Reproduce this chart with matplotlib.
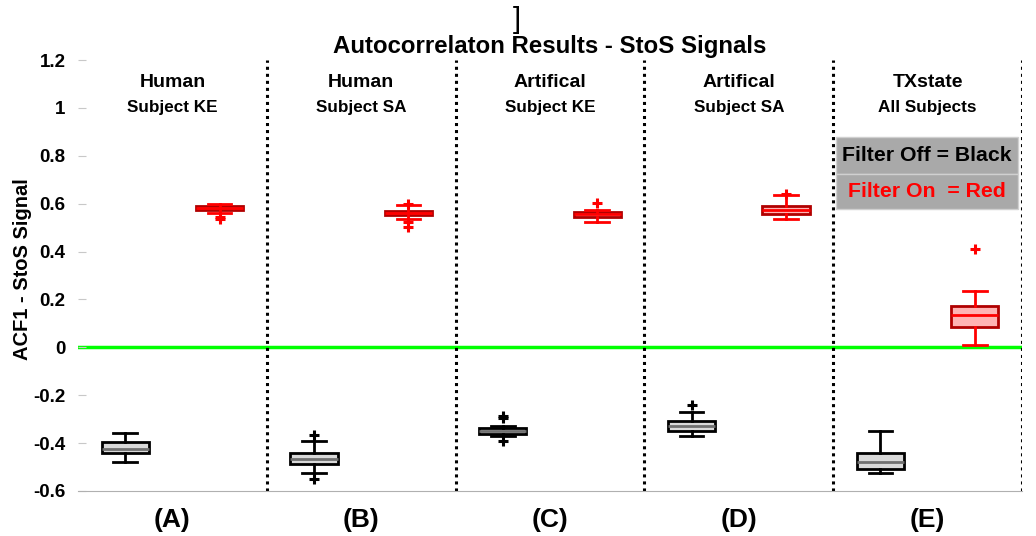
import matplotlib.pyplot as plt
from matplotlib.patches import Rectangle

plt.rcParams['font.family'] = ['Liberation Sans', 'DejaVu Sans']

# --------------------------
# Data
# --------------------------
group_titles = ['Human', 'Human', 'Artifical', 'Artifical', 'TXstate']
group_subtitles = ['Subject KE', 'Subject SA', 'Subject KE', 'Subject SA', 'All Subjects']
group_labels = ['(A)', '(B)', '(C)', '(D)', '(E)']

# filter off (black) box stats per group
off_whislo = [-0.478, -0.525, -0.372, -0.372, -0.525]
off_q1 = [-0.440, -0.486, -0.362, -0.351, -0.510]
off_med = [-0.423, -0.467, -0.350, -0.327, -0.477]
off_q3 = [-0.394, -0.442, -0.337, -0.306, -0.440]
off_whishi = [-0.356, -0.393, -0.327, -0.271, -0.350]
off_fliers = [[], [-0.365, -0.551], [-0.285, -0.295, -0.390], [-0.240], []]

# filter on (red) box stats per group
on_whislo = [0.560, 0.534, 0.525, 0.537, 0.010]
on_q1 = [0.575, 0.552, 0.544, 0.558, 0.083]
on_med = [0.580, 0.560, 0.555, 0.575, 0.134]
on_q3 = [0.590, 0.569, 0.567, 0.590, 0.171]
on_whishi = [0.600, 0.593, 0.574, 0.635, 0.236]
on_fliers = [[0.545, 0.535], [0.600, 0.523, 0.503], [0.604], [0.640], [0.411]]

yticks = [-0.6, -0.4, -0.2, 0, 0.2, 0.4, 0.6, 0.8, 1.0, 1.2]
ytick_labels = ['-0.6', '-0.4', '-0.2', '0', '0.2', '0.4', '0.6', '0.8', '1', '1.2']


def make_stats(lo, q1, med, q3, hi, fl):
    stats = []
    for i in range(len(lo)):
        stats.append({'whislo': lo[i], 'q1': q1[i], 'med': med[i], 'q3': q3[i],
                      'whishi': hi[i], 'fliers': fl[i]})
    return stats


fig = plt.figure(figsize=(10.36, 5.36), dpi=100)
ax = fig.add_axes([0.0753, 0.084, 0.9112, 0.804])

n = len(group_labels)
off_pos = [2 * i + 1 for i in range(n)]
on_pos = [2 * i + 2 for i in range(n)]

ax.axhline(0, color='#00ff00', lw=2.5, zorder=1)

ax.bxp(make_stats(off_whislo, off_q1, off_med, off_q3, off_whishi, off_fliers),
       positions=off_pos, widths=0.5, patch_artist=True, capwidths=0.25,
       boxprops=dict(facecolor='#d9d9d9', edgecolor='black', lw=2),
       medianprops=dict(color='#707070', lw=2),
       whiskerprops=dict(color='black', lw=2),
       capprops=dict(color='black', lw=2),
       flierprops=dict(marker='+', markeredgecolor='black', markersize=7, mew=2.2),
       zorder=3)

ax.bxp(make_stats(on_whislo, on_q1, on_med, on_q3, on_whishi, on_fliers),
       positions=on_pos, widths=0.5, patch_artist=True, capwidths=0.25,
       boxprops=dict(facecolor='#ffb3b3', edgecolor='#b00000', lw=2),
       medianprops=dict(color='red', lw=2),
       whiskerprops=dict(color='red', lw=2),
       capprops=dict(color='red', lw=2),
       flierprops=dict(marker='+', markeredgecolor='red', markersize=7, mew=2.2),
       zorder=3)

# group dividers
for i in range(n):
    ax.axvline(2 * i + 2.5, color='black', ls=(0, (1, 1.3)), lw=2.2, zorder=2)

# group titles
for i in range(n):
    xc = 2 * i + 1.5
    ax.text(xc, 1.107, group_titles[i], ha='center', va='center', fontsize=14, fontweight='bold')
    ax.text(xc, 1.002, group_subtitles[i], ha='center', va='center', fontsize=12.3, fontweight='bold')

# legend boxes
ax.add_patch(Rectangle((8.53, 0.723), 1.93, 0.157, facecolor='#a9a9a9', edgecolor='#d0d0d0', lw=1, zorder=4))
ax.add_patch(Rectangle((8.53, 0.579), 1.93, 0.144, facecolor='#a9a9a9', edgecolor='#d0d0d0', lw=1, zorder=4))
ax.text(9.495, 0.80, 'Filter Off = Black', ha='center', va='center', fontsize=15.3,
        fontweight='bold', color='black', zorder=5)
ax.text(9.495, 0.652, 'Filter On  = Red', ha='center', va='center', fontsize=15.3,
        fontweight='bold', color='red', zorder=5)

ax.set_xlim(0.5, 10.5)
ax.set_ylim(-0.6, 1.2)
ax.set_yticks(yticks)
ax.set_yticklabels(ytick_labels, fontsize=13.5, fontweight='bold')
ax.set_xticks([2 * i + 1.5 for i in range(n)])
ax.set_xticklabels(group_labels, fontsize=19, fontweight='bold')
ax.tick_params(axis='x', length=0, pad=12)
ax.tick_params(axis='y', direction='in', length=6, color='#c8c8c8', pad=9)

for s in ['top', 'right', 'left']:
    ax.spines[s].set_visible(False)
ax.spines['bottom'].set_color('#b0b0b0')

ax.set_ylabel('ACF1 - StoS Signal', fontsize=14.5, fontweight='bold')
ax.yaxis.set_label_coords(-0.049, 0.515)

fig.text(0.531, 0.914, 'Autocorrelaton Results - StoS Signals', ha='center', va='center',
         fontsize=17.3, fontweight='bold')
fig.text(0.4985, 0.963, ']', ha='center', va='center', fontsize=21)

plt.savefig('out.png', dpi=100)
